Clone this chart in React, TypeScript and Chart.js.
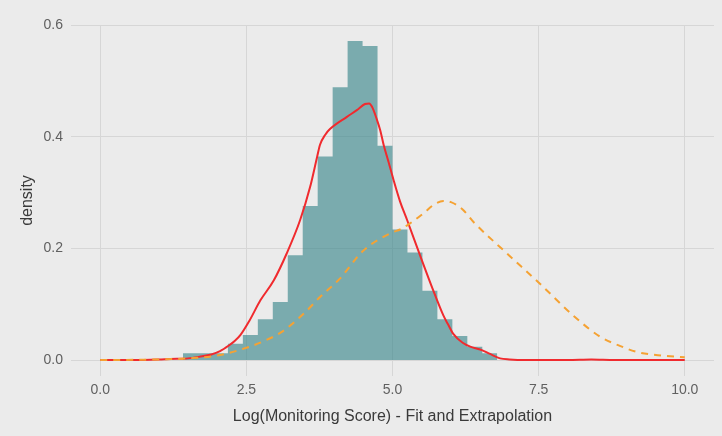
import React, { useEffect, useRef } from "react";
import { Chart, registerables } from "chart.js";

Chart.register(...registerables);

// Histogram bins (centers) and their densities
const binWidth = 0.256;
const binCenters = [
  1.544, 1.8, 2.056, 2.312, 2.568, 2.824, 3.08, 3.336, 3.592, 3.848, 4.104,
  4.36, 4.616, 4.872, 5.128, 5.384, 5.64, 5.896, 6.152, 6.408, 6.664,
];
const binDensity = [
  0.012, 0.012, 0.012, 0.029, 0.045, 0.073, 0.104, 0.188, 0.276, 0.365, 0.489,
  0.572, 0.563, 0.384, 0.234, 0.193, 0.124, 0.073, 0.043, 0.024, 0.012,
];

// Kernel density estimate (red)
const kdeX = [
  0, 0.5, 1.0, 1.2, 1.5, 1.7, 1.9, 2.05, 2.2, 2.3, 2.4, 2.55, 2.74, 2.97, 3.19,
  3.42, 3.59, 3.71, 3.76, 3.85, 3.93, 4.22, 4.39, 4.53, 4.6, 4.65, 4.73, 4.79,
  4.85, 4.93, 5.02, 5.13, 5.25, 5.47, 5.7, 5.87, 5.95, 6.04, 6.2, 6.33, 6.5,
  6.67, 6.84, 7.0, 7.3, 8.0, 8.4, 8.8, 10.0,
];
const kdeY = [
  0.0, 0.0, 0.001, 0.002, 0.003, 0.006, 0.01, 0.016, 0.026, 0.034, 0.045, 0.07,
  0.107, 0.143, 0.191, 0.251, 0.31, 0.364, 0.386, 0.404, 0.414, 0.436, 0.448,
  0.459, 0.46, 0.454, 0.432, 0.412, 0.385, 0.356, 0.322, 0.284, 0.251, 0.188,
  0.124, 0.08, 0.064, 0.047, 0.031, 0.024, 0.019, 0.011, 0.003, 0.001, 0.0, 0.0,
  0.001, 0.0, 0.0,
];

// Fitted / extrapolated density (orange dashed)
const fitX = [
  0, 1.0, 1.5, 2.0, 2.5, 2.8, 3.1, 3.5, 3.76, 4.1, 4.5, 5.0, 5.13, 5.3, 5.53,
  5.7, 5.87, 6.0, 6.2, 6.39, 6.96, 7.5, 8.1, 8.55, 8.9, 9.2, 9.6, 10.0,
];
const fitY = [
  0.0, 0.001, 0.003, 0.008, 0.022, 0.034, 0.05, 0.085, 0.113, 0.146, 0.196,
  0.229, 0.234, 0.245, 0.263, 0.278, 0.285, 0.283, 0.27, 0.247, 0.191, 0.139,
  0.079, 0.042, 0.025, 0.014, 0.008, 0.005,
];

const xTicks = [0, 2.5, 5, 7.5, 10];
const yTicks = [0, 0.2, 0.4, 0.6];

const FONT = "'Liberation Sans', Arial, Helvetica, sans-serif";

export default function App() {
  const ref = useRef<HTMLCanvasElement>(null);

  useEffect(() => {
    if (!ref.current) return;
    const histSteps = binCenters.map((c, i) => ({
      x: c - binWidth / 2,
      y: binDensity[i],
    }));
    histSteps.push({
      x: binCenters[binCenters.length - 1] + binWidth / 2,
      y: 0,
    });

    const chart = new Chart(ref.current, {
      type: "line",
      data: {
        datasets: [
          {
            label: "fit",
            data: fitX.map((x, i) => ({ x, y: fitY[i] })),
            borderColor: "#F5A233",
            borderWidth: 2,
            borderDash: [7, 6],
            pointRadius: 0,
            cubicInterpolationMode: "monotone",
            fill: false,
            order: 1,
          } as any,
          {
            label: "kde",
            data: kdeX.map((x, i) => ({ x, y: kdeY[i] })),
            borderColor: "#F02A2E",
            borderWidth: 2,
            pointRadius: 0,
            cubicInterpolationMode: "monotone",
            fill: false,
            order: 2,
          } as any,
          {
            label: "hist",
            data: histSteps,
            stepped: "before",
            borderWidth: 0,
            borderColor: "rgba(0,0,0,0)",
            backgroundColor: "rgba(47,128,133,0.6)",
            fill: "origin",
            pointRadius: 0,
            order: 3,
          } as any,
        ],
      },
      options: {
        animation: false,
        responsive: false,
        devicePixelRatio: 1,
        layout: { padding: { top: 25, right: 8, bottom: 0, left: 0 } },
        plugins: {
          legend: { display: false },
          tooltip: { enabled: false },
        },
        scales: {
          x: {
            type: "linear",
            min: -0.5,
            max: 10.5,
            offset: false,
            afterBuildTicks: (s: any) => {
              s.ticks = xTicks.map((v) => ({ value: v }));
            },
            afterFit: (s: any) => {
              s.height = 60;
            },
            ticks: {
              callback: (v: any) => Number(v).toFixed(1),
              padding: 6,
              color: "#606060",
              font: { family: FONT, size: 14 },
              maxRotation: 0,
              autoSkip: false,
            },
            grid: {
              color: "#D6D6D6",
              lineWidth: 1,
              drawTicks: false,
              offset: false,
            },
            border: { display: false },
            title: {
              display: true,
              text: "Log(Monitoring Score) - Fit and Extrapolation",
              color: "#3A3A3A",
              font: { family: FONT, size: 16 },
              padding: { top: 0, bottom: 10 },
            },
          },
          y: {
            type: "linear",
            min: -0.0286,
            max: 0.6006,
            afterBuildTicks: (s: any) => {
              s.ticks = yTicks.map((v) => ({ value: v }));
            },
            afterFit: (s: any) => {
              s.width = 71;
            },
            ticks: {
              callback: (v: any) => Number(v).toFixed(1),
              padding: 8,
              color: "#606060",
              font: { family: FONT, size: 14 },
            },
            grid: {
              color: "#D6D6D6",
              lineWidth: 1,
              drawTicks: false,
            },
            border: { display: false },
            title: {
              display: true,
              text: "density",
              color: "#3A3A3A",
              font: { family: FONT, size: 16 },
              padding: { top: 18, bottom: 0 },
            },
          },
        },
      } as any,
    });
    return () => chart.destroy();
  }, []);

  return (
    <div
      style={{
        position: "fixed",
        left: 0,
        top: 0,
        width: 722,
        height: 436,
        background: "#EBEBEB",
      }}
    >
      <canvas
        ref={ref}
        width={722}
        height={436}
        style={{ display: "block", width: 722, height: 436 }}
      />
    </div>
  );
}
